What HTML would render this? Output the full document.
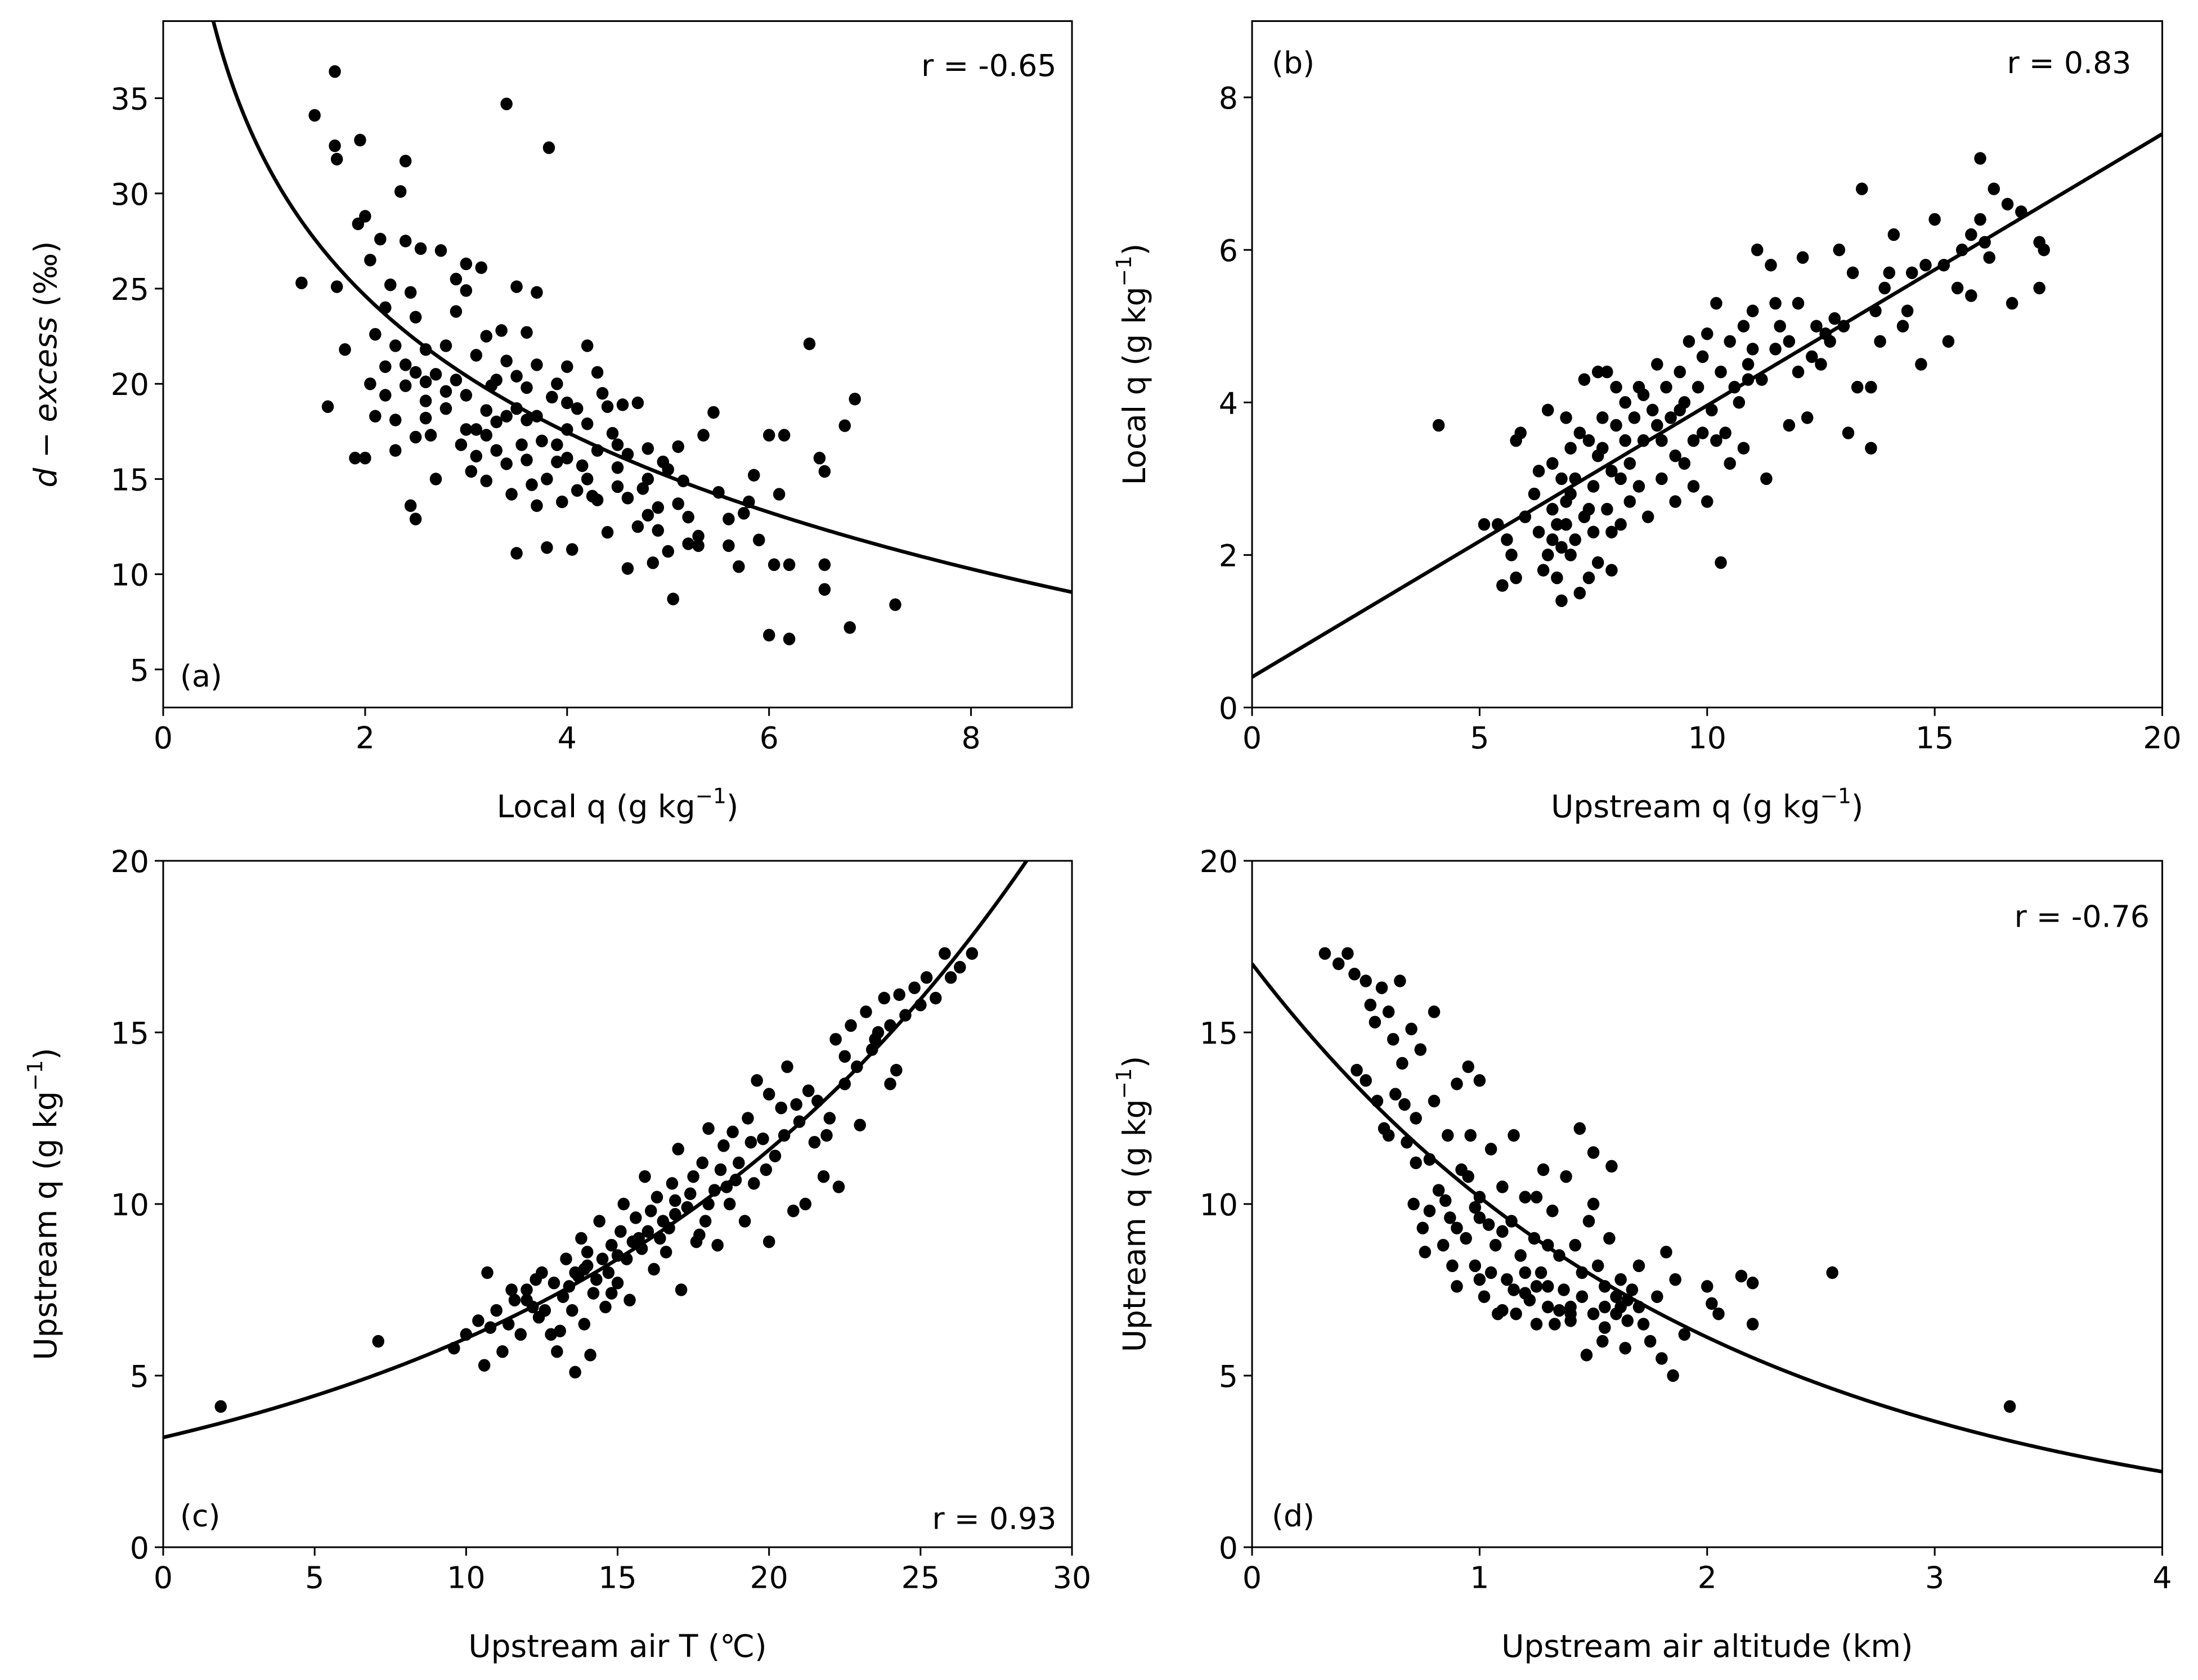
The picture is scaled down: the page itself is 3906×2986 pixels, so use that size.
<!DOCTYPE html>
<html><head><meta charset="utf-8"><style>
html,body{margin:0;padding:0;background:#fff;}
svg{display:block;font-family:"DejaVu Sans","Liberation Sans",sans-serif;}
</style></head><body>
<svg id="fig" xmlns="http://www.w3.org/2000/svg" width="3906" height="2986" viewBox="0 0 1562.4 1194.4">
<rect width="1562.4" height="1194.4" fill="#fff"/>
</svg>
<script>
const aX=[1.37,1.5,1.63,1.7,1.7,1.72,1.72,1.8,1.9,1.93,1.95,2.0,2.0,2.05,2.05,2.1,2.15,2.2,2.25,2.3,2.3,2.35,2.4,2.4,2.4,2.45,2.45,2.5,2.5,2.5,2.55,2.6,2.6,2.65,2.7,2.75,2.8,2.8,2.9,2.9,2.95,3.0,3.0,3.0,3.05,3.1,3.1,3.15,3.2,3.2,3.25,3.3,3.35,3.4,3.4,3.45,3.5,3.5,3.5,3.55,3.6,3.6,3.65,3.7,3.7,3.75,3.8,3.82,3.85,3.9,3.95,4.0,4.0,4.05,4.1,4.15,4.2,4.25,4.3,4.3,4.35,4.4,4.45,4.5,4.55,4.6,4.6,4.7,4.75,4.8,4.85,4.9,4.95,5.0,5.05,5.1,5.15,5.2,5.3,5.35,5.45,5.5,5.6,5.7,5.75,5.85,5.9,6.0,6.0,6.05,6.1,6.15,6.2,6.2,6.4,6.5,6.55,6.55,6.75,6.8,6.85,7.25,6.55,5.6,4.2,4.0,3.3,2.2,3.9,4.4,4.7,3.5,3.0,2.7,3.6,4.2,5.2,4.1,3.4,2.9,3.3,3.9,4.6,5.0,2.5,2.2,3.8,4.3,3.1,4.9,3.7,2.4,2.6,3.2,3.7,4.5,5.3,5.8,4.8,2.3,2.1,2.8,3.4,4.0,4.5,3.6,3.2,2.6,4.8,5.1];
const aY=[25.3,34.1,18.8,36.4,32.5,31.8,25.1,21.8,16.1,28.4,32.8,28.8,16.1,26.5,20,18.3,27.6,19.4,25.2,16.5,22,30.1,27.5,31.7,19.9,13.6,24.8,12.9,23.5,17.2,27.1,21.8,19.1,17.3,15,27,22,18.7,20.2,23.8,16.8,26.3,24.9,19.4,15.4,21.5,17.6,26.1,22.5,14.9,19.9,16.5,22.8,34.7,18.3,14.2,25.1,20.4,11.1,16.8,22.7,18.1,14.7,24.8,21.0,17.0,11.4,32.4,19.3,15.9,13.8,20.9,17.6,11.3,18.7,15.7,22.0,14.1,20.6,16.5,19.5,12.2,17.4,14.6,18.9,10.3,16.3,12.5,14.5,16.6,10.6,13.5,15.9,11.2,8.7,13.7,14.9,11.6,12.0,17.3,18.5,14.3,12.9,10.4,13.2,15.2,11.8,17.3,6.8,10.5,14.2,17.3,6.6,10.5,22.1,16.1,9.2,15.4,17.8,7.2,19.2,8.4,10.5,11.5,17.9,19.0,18.0,24.0,16.8,18.8,19.0,18.7,17.6,20.5,16.0,15.0,13.0,14.4,21.2,25.5,20.2,20.0,14.0,15.5,20.6,20.9,15.0,13.9,16.2,12.3,13.6,21.0,18.2,17.3,18.3,16.8,11.5,13.8,15.0,18.1,22.6,19.6,15.8,16.1,15.6,19.8,18.6,20.1,13.1,16.7];
const bX=[4.1,5.1,5.4,5.5,5.6,5.7,5.8,5.8,5.9,6.0,6.2,6.3,6.4,6.5,6.5,6.6,6.6,6.7,6.7,6.8,6.8,6.8,6.9,6.9,7.0,7.0,7.1,7.1,7.2,7.3,7.3,7.4,7.4,7.5,7.5,7.6,7.6,7.7,7.8,7.8,7.9,7.9,8.0,8.0,8.1,8.2,8.2,8.3,8.4,8.5,8.5,8.6,8.7,8.8,8.9,9.0,9.0,9.1,9.2,9.3,9.4,9.5,9.5,9.6,9.7,9.8,9.9,10.0,10.0,10.1,10.2,10.3,10.3,10.4,10.5,10.6,10.8,10.8,10.9,11.0,11.1,11.2,11.3,11.4,11.5,11.6,11.8,12.0,12.0,12.1,12.2,12.4,12.5,12.7,12.9,13.0,13.1,13.3,13.4,13.6,13.6,13.7,13.8,13.9,14.1,14.3,14.5,14.7,14.8,15.0,15.2,15.3,15.5,15.6,15.8,16.0,16.0,16.2,16.3,16.6,16.7,16.9,17.3,17.3,17.4,14.0,16.1,12.8,10.7,9.3,8.6,7.2,11.8,13.2,10.2,9.7,8.3,7.6,6.3,11.5,12.3,14.4,15.8,10.5,8.9,7.9,6.9,9.9,11.0,7.0,7.4,8.1,9.4,6.6,7.7,10.9,12.6];
const bY=[3.7,2.4,2.4,1.6,2.2,2.0,1.7,3.5,3.6,2.5,2.8,2.3,1.8,3.9,2.0,2.6,3.2,1.7,2.4,1.4,3.0,2.1,3.8,2.7,3.4,2.0,2.2,3.0,1.5,2.5,4.3,1.7,3.5,2.9,2.3,4.4,3.3,3.8,2.6,4.4,1.8,3.1,3.7,4.2,2.4,3.5,4.0,3.2,3.8,2.9,4.2,3.5,2.5,3.9,4.5,3.0,3.5,4.2,3.8,2.7,4.4,3.2,4.0,4.8,3.5,4.2,3.6,4.9,2.7,3.9,5.3,4.4,1.9,3.6,4.8,4.2,5.0,3.4,4.5,5.2,6.0,4.3,3.0,5.8,4.7,5.0,3.7,5.3,4.4,5.9,3.8,5.0,4.5,4.8,6.0,5.0,3.6,4.2,6.8,3.4,4.2,5.2,4.8,5.5,6.2,5.0,5.7,4.5,5.8,6.4,5.8,4.8,5.5,6.0,5.4,6.4,7.2,5.9,6.8,6.6,5.3,6.5,6.1,5.5,6.0,5.7,6.1,5.1,4.0,3.3,4.1,3.6,4.8,5.7,3.5,2.9,2.7,1.9,3.1,5.3,4.6,5.2,6.2,3.2,3.7,2.3,2.4,4.6,4.7,2.8,2.6,3.0,3.9,2.2,3.4,4.3,4.9];
const cX=[1.9,7.1,9.6,10.0,10.4,10.6,10.7,11.0,11.2,11.4,11.6,11.8,12.0,12.2,12.4,12.5,12.8,12.9,13.0,13.2,13.3,13.5,13.6,13.7,13.8,13.9,14.0,14.1,14.2,14.4,14.5,14.6,14.8,15.0,15.1,15.2,15.3,15.4,15.6,15.8,15.9,16.0,16.2,16.3,16.5,16.6,16.8,16.9,17.0,17.1,17.3,17.5,17.6,17.8,17.9,18.0,18.2,18.3,18.5,18.7,18.8,19.0,19.2,19.3,19.5,19.6,19.8,20.0,20.0,20.2,20.4,20.6,20.8,21.0,21.2,21.5,21.6,21.8,22.0,22.2,22.3,22.5,22.7,22.9,23.0,23.2,23.4,23.6,23.8,24.0,24.2,24.3,24.5,24.8,25.0,25.2,25.5,25.8,26.0,26.3,26.7,12.3,13.1,14.7,15.5,16.4,17.4,18.4,19.4,20.5,21.3,22.5,23.5,11.5,14.3,16.1,17.7,18.9,15.0,13.9,19.9,21.9,24.0,12.6,14.8,16.7,18.0,20.9,10.8,13.4,14.0,15.7,16.9,18.6,12.0,13.6];
const cY=[4.1,6.0,5.8,6.2,6.6,5.3,8.0,6.9,5.7,6.5,7.2,6.2,7.5,7.0,6.7,8.0,6.2,7.7,5.7,7.3,8.4,6.9,5.1,7.9,9.0,6.5,8.2,5.6,7.4,9.5,8.4,7.0,8.8,7.7,9.2,10.0,8.4,7.2,9.6,8.7,10.8,9.2,8.1,10.2,9.5,8.6,10.6,9.7,11.6,7.5,9.9,10.8,8.9,11.2,9.5,12.2,10.4,8.8,11.7,10.0,12.1,11.2,9.5,12.5,10.6,13.6,11.9,13.2,8.9,11.4,12.8,14.0,9.8,12.4,10.0,11.8,13.0,10.8,12.5,14.8,10.5,13.5,15.2,14.0,12.3,15.6,14.5,15.0,16.0,15.2,13.9,16.1,15.5,16.3,15.8,16.6,16.0,17.3,16.6,16.9,17.3,7.8,6.3,8.0,8.9,9.0,10.3,11.0,11.8,12.0,13.3,14.3,14.8,7.5,7.8,9.8,9.1,10.7,8.5,8.1,11.0,12.0,13.5,6.9,7.4,9.3,10.0,12.9,6.4,7.6,8.6,9.0,10.1,10.5,7.2,8.0];
const dX=[0.32,0.38,0.42,0.45,0.5,0.46,0.5,0.52,0.55,0.57,0.58,0.6,0.62,0.63,0.65,0.67,0.68,0.7,0.71,0.72,0.74,0.75,0.76,0.78,0.8,0.8,0.82,0.84,0.86,0.87,0.9,0.9,0.92,0.94,0.95,0.96,0.98,1.0,1.0,1.02,1.04,1.05,1.07,1.08,1.1,1.12,1.14,1.15,1.16,1.18,1.2,1.22,1.24,1.25,1.27,1.28,1.3,1.32,1.33,1.35,1.37,1.38,1.4,1.42,1.44,1.45,1.47,1.48,1.5,1.5,1.52,1.54,1.55,1.57,1.58,1.6,1.62,1.64,1.65,1.67,1.7,1.72,1.75,1.78,1.8,1.82,1.85,1.86,1.9,2.0,2.02,2.05,2.15,2.2,2.2,2.55,3.33,1.1,1.2,1.3,1.4,1.0,0.95,0.85,1.15,1.25,1.45,1.55,1.35,1.05,0.9,1.62,1.7,1.1,0.78,0.72,0.66,0.54,0.6,1.25,1.5,1.6,1.0,0.88,1.2,1.3,1.4,1.55,1.65,0.98];
const dY=[17.3,17.0,17.3,16.7,16.5,13.9,13.6,15.8,13.0,16.3,12.2,15.6,14.8,13.2,16.5,12.9,11.8,15.1,10.0,12.5,14.5,9.3,8.6,11.3,15.6,13.0,10.4,8.8,12.0,9.6,13.5,7.6,11.0,9.0,14.0,12.0,8.2,13.6,10.2,7.3,9.4,11.6,8.8,6.8,10.5,7.8,9.5,12.0,6.8,8.5,10.2,7.2,9.0,6.5,8.0,11.0,7.0,9.8,6.5,8.5,7.5,10.8,6.6,8.8,12.2,7.3,5.6,9.5,6.8,11.5,8.2,6.0,7.6,9.0,11.1,6.8,7.8,5.8,6.6,7.5,8.2,6.5,6.0,7.3,5.5,8.6,5.0,7.8,6.2,7.6,7.1,6.8,7.9,6.5,7.7,8.0,4.1,9.2,8.0,8.8,7.0,9.6,10.8,10.1,7.5,7.6,8.0,6.4,6.9,8.0,9.3,7.0,7.0,6.9,9.8,11.2,14.1,15.3,12.0,10.2,10.0,7.3,7.8,8.2,7.4,7.6,6.8,7.0,7.2,9.9];
const aTicksX=[0,2,4,6,8], aTicksY=[5,10,15,20,25,30,35];
const bTicksX=[0,5,10,15,20], bTicksY=[0,2,4,6,8];
const cTicksX=[0,5,10,15,20,25,30], cTicksY=[0,5,10,15,20];
const dTicksX=[0,1,2,3,4], dTicksY=[0,5,10,15,20];

const NS='http://www.w3.org/2000/svg';
const svg=document.getElementById('fig');
function mk(tag,attrs,parent){const e=document.createElementNS(NS,tag);for(const k in attrs)e.setAttribute(k,attrs[k]);(parent||svg).appendChild(e);return e;}

function panel(id,box,xd,yd,xs,ys,xt,yt,xlab,ylab,fit,tag,tagPos,rtxt,rPos){
  const g=mk('g',{});
  
  
  const [L,T,R,B]=box;
  const sx=v=>L+(v-xd[0])/(xd[1]-xd[0])*(R-L);
  const sy=v=>B-(v-yd[0])/(yd[1]-yd[0])*(B-T);
  const cp=mk('clipPath',{id:'clip'+id},g);mk('rect',{x:L,y:T,width:R-L,height:B-T},cp);
  const pg=mk('g',{'clip-path':'url(#clip'+id+')'},g);
  
  
  for(let i=0;i<xs.length;i++){
    const c=mk('ellipse',{cx:sx(xs[i]),cy:sy(ys[i]),rx:4.3,ry:4.5,fill:'#000'},pg);
    
    
  }
  let d='';const n=300;
  for(let i=0;i<=n;i++){const x=xd[0]+(xd[1]-xd[0])*i/n;const y=fit(x);if(!isFinite(y))continue;d+=(d?'L':'M')+sx(x).toFixed(2)+','+sy(Math.min(y,yd[1]+20)).toFixed(2);}
  const fl=mk('path',{d:d,fill:'none',stroke:'#000','stroke-width':2.6,'clip-path':'url(#clip'+id+')'},g);
  
  
  const fr=mk('rect',{x:L,y:T,width:R-L,height:B-T,fill:'none',stroke:'#000','stroke-width':1.2},g);
  
  
  for(const t of xt){
    mk('line',{x1:sx(t),x2:sx(t),y1:B,y2:B+6,stroke:'#000','stroke-width':1.2},g);
    const tx=mk('text',{x:sx(t),y:B+29,'font-size':21.5,'text-anchor':'middle'},g);tx.textContent=t;
    
    
  }
  for(const t of yt){
    mk('line',{x1:L-6,x2:L,y1:sy(t),y2:sy(t),stroke:'#000','stroke-width':1.2},g);
    const tx=mk('text',{x:L-10,y:sy(t)+8,'font-size':21.5,'text-anchor':'end'},g);tx.textContent=t;
    
    
  }
  const xl=mk('text',{x:(L+R)/2,y:B+78,'font-size':22,'text-anchor':'middle'},g);xl.innerHTML=xlab;
  
  
  const yl=mk('text',{x:0,y:0,'font-size':22,'text-anchor':'middle',transform:'translate('+(L-76)+','+((T+B)/2)+') rotate(-90)'},g);yl.innerHTML=ylab;
  
  
  const tg=mk('text',{x:tagPos[0],y:tagPos[1],'font-size':21.5},g);tg.textContent=tag;
  
  
  if(rtxt){const rt=mk('text',{x:rPos[0],y:rPos[1],'font-size':21.5,'text-anchor':'end'},g);rt.textContent=rtxt;
    
    }
}
const sup='<tspan font-size="15" dy="-10">−1</tspan><tspan dy="10">)</tspan>';
panel('a',[116,15,762,503],[0,9],[3,39.05],aX,aY,aTicksX,aTicksY,'Local q (g kg'+sup,'<tspan font-style="italic">d</tspan> − <tspan font-style="italic">excess</tspan> (‰)',x=>31.8-10.35*Math.log(x),'(a)',[128,488],'r = -0.65',[751,54]);
panel('b',[890,15,1537,503],[0,20],[0,9],bX,bY,bTicksX,bTicksY,'Upstream q (g kg'+sup,'Local q (g kg'+sup,x=>0.4+0.356*x,'(b)',[904,52],'r = 0.83',[1515,52]);
panel('c',[116,612,762,1100],[0,30],[0,20],cX,cY,cTicksX,cTicksY,'Upstream air T (℃)','Upstream q (g kg'+sup,x=>3.2*Math.exp(0.0643*x),'(c)',[128,1085],'r = 0.93',[751,1087]);
panel('d',[890,612,1537,1100],[0,4],[0,20],dX,dY,dTicksX,dTicksY,'Upstream air altitude (km)','Uptream q (g kg'+sup,x=>17*Math.exp(-0.511*x),'(d)',[904,1085],'r = -0.76',[1528,659]);
</script>
</body></html>
